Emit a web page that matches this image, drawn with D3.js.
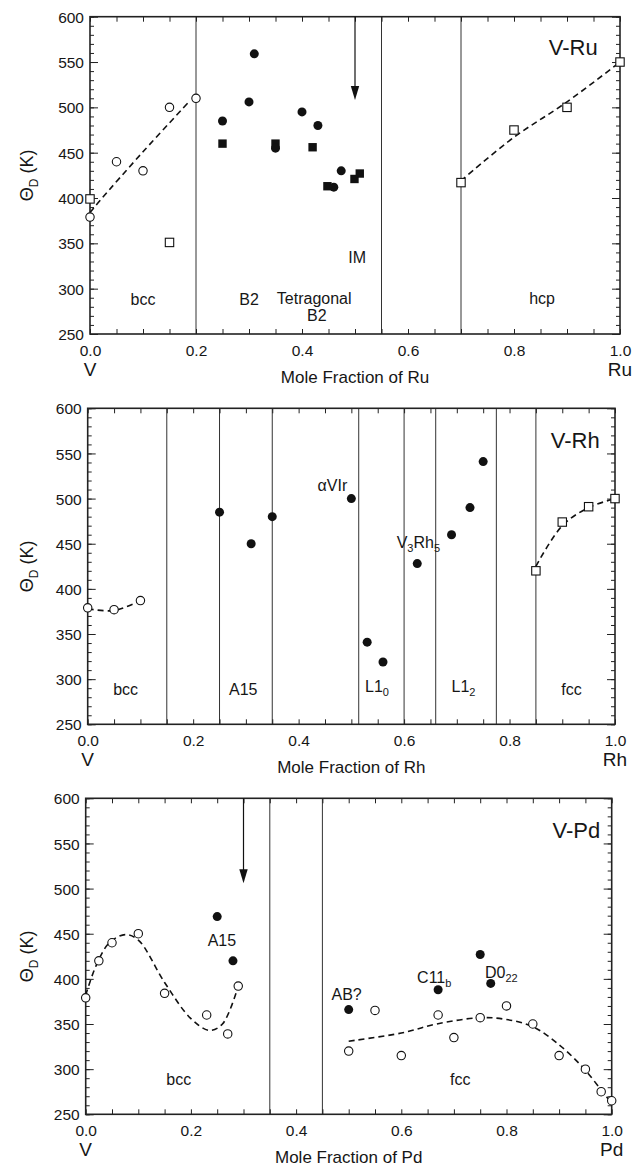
<!DOCTYPE html>
<html>
<head>
<meta charset="utf-8">
<style>
  body {
    margin: 0;
    background-color: #fff;
  }

  svg text {
    font-family: "Liberation Sans", Arial, Helvetica, sans-serif;
    fill: #161616;
  }
</style>
  <script src="https://d3js.org/d3.v7.min.js"></script>
</head>
<body>
<script>
// Debye temperature vs composition, three V-based systems

// ---- V-Ru ----
const ruOpenCircles = [[0, 379], [0.05, 440], [0.1, 430], [0.15, 500], [0.2, 510]];
const ruOpenSquares = [[0, 399], [0.15, 351], [0.7, 417], [0.8, 475], [0.9, 500], [1.0, 550]];
const ruFilledCircles = [[0.25, 485], [0.3, 506], [0.31, 559], [0.35, 455], [0.4, 495],
  [0.43, 480], [0.46, 412], [0.474, 430]];
const ruFilledSquares = [[0.25, 460], [0.35, 460], [0.42, 456], [0.448, 413], [0.499, 421], [0.509, 427]];
const ruFitLeft = [[0, 384], [0.02, 398], [0.1, 451], [0.185, 505]];
const ruFitRight = [[0.7, 419], [0.8, 467], [0.9, 506], [1.0, 550]];
const ruBounds = [0.2, 0.55, 0.7];
const ruArrowX = 0.5;
const ruArrowTip = 508;

// ---- V-Rh ----
const rhOpenCircles = [[0, 379], [0.05, 377], [0.1, 387]];
const rhOpenSquares = [[0.85, 420], [0.9, 474], [0.95, 491], [1.0, 500]];
const rhFilledCircles = [[0.25, 485], [0.31, 450], [0.35, 480], [0.5, 500], [0.53, 341],
  [0.56, 319], [0.625, 428], [0.69, 460], [0.725, 490], [0.75, 541]];
const rhFitLeft = [[0, 378], [0.05, 376], [0.1, 387]];
const rhFitRight = [[0.85, 425], [0.9, 470], [0.95, 490], [1.0, 500]];
const rhBounds = [0.15, 0.25, 0.35, 0.514, 0.6, 0.66, 0.775, 0.85];

// ---- V-Pd ----
const pdOpenCircles = [[0, 379], [0.025, 420], [0.05, 440], [0.1, 450], [0.15, 384],
  [0.23, 360], [0.27, 339], [0.29, 392], [0.5, 320], [0.55, 365], [0.6, 315],
  [0.67, 360], [0.7, 335], [0.75, 357], [0.8, 370], [0.85, 350], [0.9, 315],
  [0.95, 300], [0.98, 275], [1.0, 265]];
const pdFilledCircles = [[0.25, 469], [0.28, 420], [0.5, 366], [0.67, 388], [0.75, 427], [0.77, 395]];
const pdFitLeft = [[0, 382], [0.02, 415], [0.045, 440], [0.075, 449], [0.1, 443],
  [0.15, 396], [0.2, 356], [0.235, 343], [0.26, 350], [0.29, 392]];
const pdFitRight = [[0.5, 331], [0.6, 340], [0.667, 350], [0.75, 357], [0.8, 355],
  [0.85, 347], [0.9, 327], [0.945, 302], [0.98, 277], [1.0, 262]];
const pdBounds = [0.35, 0.45];
const pdArrowX = 0.3;
const pdArrowTip = 506;

const xMajorTicks = [0, 0.2, 0.4, 0.6, 0.8, 1.0];
const yMajorTicks = [250, 300, 350, 400, 450, 500, 550, 600];

const svg = d3.select('body')
  .append('svg')
  .attr('width', 633)
  .attr('height', 1169);

const drawPanel = (p) => {
  const x = d3.scaleLinear().domain([0, 1]).range([p.left, p.right]);
  const y = d3.scaleLinear().domain([250, 600]).range([p.bottom, p.top]);
  const g = svg.append('g');

  // phase boundaries
  g.selectAll('.bound')
    .data(p.bounds)
    .join('line')
    .attr('x1', d => x(d)).attr('x2', d => x(d))
    .attr('y1', p.top).attr('y2', p.bottom)
    .attr('stroke', '#333')
    .attr('stroke-width', 1);

  // axes, ticks pointing inward
  const minorX = d3.range(0, 1.0001, 0.05);
  const minorY = d3.range(250, 600.001, 10);
  const fmtX = d => (xMajorTicks.some(m => Math.abs(m - d) < 1e-6) ? d3.format('.1f')(d) : '');

  g.append('g')
    .attr('transform', `translate(0,${p.bottom})`)
    .call(d3.axisBottom(x).tickValues(minorX).tickSize(-5).tickPadding(11).tickFormat(fmtX));
  g.append('g')
    .attr('transform', `translate(0,${p.top})`)
    .call(d3.axisTop(x).tickValues(minorX).tickSize(-5).tickFormat(''));
  g.append('g')
    .attr('transform', `translate(${p.left},0)`)
    .call(d3.axisLeft(y).tickValues(minorY).tickSize(-4).tickFormat(''));
  const left = g.append('g')
    .attr('transform', `translate(${p.left},0)`)
    .call(d3.axisLeft(y).tickValues(yMajorTicks).tickSize(-8).tickPadding(6).tickFormat(d3.format('d')));
  g.append('g')
    .attr('transform', `translate(${p.right},0)`)
    .call(d3.axisRight(y).tickValues(minorY).tickSize(-4).tickFormat(''));
  g.append('g')
    .attr('transform', `translate(${p.right},0)`)
    .call(d3.axisRight(y).tickValues(yMajorTicks).tickSize(-8).tickFormat(''));

  g.selectAll('.domain').remove();
  g.selectAll('.tick line').attr('stroke', '#222').attr('stroke-width', 1);
  g.selectAll('.tick text').attr('font-size', 15.5).attr('fill', '#161616');
  left.selectAll('.tick text').attr('dy', '0.36em');

  g.append('rect')
    .attr('x', p.left).attr('y', p.top)
    .attr('width', p.right - p.left).attr('height', p.bottom - p.top)
    .attr('fill', 'none')
    .attr('stroke', '#222')
    .attr('stroke-width', 1.6);

  // axis titles
  g.append('text')
    .attr('x', (p.left + p.right) / 2)
    .attr('y', p.bottom + 49)
    .attr('text-anchor', 'middle')
    .attr('font-size', 17)
    .text('Mole Fraction of ' + p.element);
  g.append('text')
    .attr('x', x(0)).attr('y', p.bottom + 42)
    .attr('text-anchor', 'middle')
    .attr('font-size', 19)
    .text('V');
  g.append('text')
    .attr('x', x(1)).attr('y', p.bottom + 42)
    .attr('text-anchor', 'middle')
    .attr('font-size', 19)
    .text(p.element);

  const yl = g.append('text')
    .attr('transform', `translate(33,${(p.top + p.bottom) / 2}) rotate(-90)`)
    .attr('text-anchor', 'middle')
    .attr('font-size', 18);
  yl.append('tspan').text('Θ');
  yl.append('tspan').attr('font-size', 12).attr('dy', 5).text('D');
  yl.append('tspan').attr('dy', -5).text(' (K)');

  // dashed fits
  const line = d3.line()
    .x(d => x(d[0]))
    .y(d => y(d[1]))
    .curve(d3.curveCatmullRom);
  p.fits.forEach(f => {
    g.append('path')
      .attr('d', line(f))
      .attr('fill', 'none')
      .attr('stroke', '#111')
      .attr('stroke-width', 1.6)
      .attr('stroke-dasharray', '6,4');
  });

  // arrow
  if (p.arrowX !== undefined) {
    const ax = x(p.arrowX);
    const tip = y(p.arrowTip);
    g.append('line')
      .attr('x1', ax).attr('x2', ax)
      .attr('y1', p.top).attr('y2', tip - 10)
      .attr('stroke', '#111').attr('stroke-width', 1.2);
    g.append('path')
      .attr('d', `M${ax - 4.2},${tip - 14} L${ax + 4.2},${tip - 14} L${ax},${tip} Z`)
      .attr('fill', '#111');
  }

  // markers
  const r = 4.2;
  const sq = 8.4;
  g.selectAll('.osq')
    .data(p.openSquares || [])
    .join('rect')
    .attr('x', d => x(d[0]) - sq / 2).attr('y', d => y(d[1]) - sq / 2)
    .attr('width', sq).attr('height', sq)
    .attr('fill', '#fff').attr('stroke', '#111').attr('stroke-width', 1.1);
  g.selectAll('.ocir')
    .data(p.openCircles || [])
    .join('circle')
    .attr('cx', d => x(d[0])).attr('cy', d => y(d[1])).attr('r', r)
    .attr('fill', '#fff').attr('stroke', '#111').attr('stroke-width', 1.1);
  g.selectAll('.fsq')
    .data(p.filledSquares || [])
    .join('rect')
    .attr('x', d => x(d[0]) - sq / 2).attr('y', d => y(d[1]) - sq / 2)
    .attr('width', sq).attr('height', sq)
    .attr('fill', '#111');
  g.selectAll('.fcir')
    .data(p.filledCircles || [])
    .join('circle')
    .attr('cx', d => x(d[0])).attr('cy', d => y(d[1])).attr('r', r + 0.3)
    .attr('fill', '#111');

  // region and phase labels; {s: '..'} parts are subscripts
  p.labels.forEach(l => {
    const t = g.append('text')
      .attr('x', x(l.x)).attr('y', y(l.y))
      .attr('text-anchor', l.anchor || 'middle')
      .attr('font-size', l.size || 16);
    let shifted = false;
    l.parts.forEach(part => {
      if (typeof part === 'string') {
        t.append('tspan').attr('dy', shifted ? -4 : 0).text(part);
        shifted = false;
      } else {
        t.append('tspan').attr('font-size', 11).attr('dy', 4).text(part.s);
        shifted = true;
      }
    });
  });
};

drawPanel({
  element: 'Ru',
  left: 90, right: 620, top: 16.7, bottom: 334,
  bounds: ruBounds,
  openCircles: ruOpenCircles,
  openSquares: ruOpenSquares,
  filledCircles: ruFilledCircles,
  filledSquares: ruFilledSquares,
  fits: [ruFitLeft, ruFitRight],
  arrowX: ruArrowX, arrowTip: ruArrowTip,
  labels: [
    {x: 0.1, y: 282, parts: ['bcc']},
    {x: 0.3, y: 282, parts: ['B2']},
    {x: 0.423, y: 283, parts: ['Tetragonal']},
    {x: 0.428, y: 264, parts: ['B2']},
    {x: 0.504, y: 328, parts: ['IM']},
    {x: 0.853, y: 283, parts: ['hcp']},
    {x: 0.958, y: 558, anchor: 'end', size: 22, parts: ['V-Ru']}
  ]
});

drawPanel({
  element: 'Rh',
  left: 87.7, right: 615, top: 408.3, bottom: 724.3,
  bounds: rhBounds,
  openCircles: rhOpenCircles,
  openSquares: rhOpenSquares,
  filledCircles: rhFilledCircles,
  fits: [rhFitLeft, rhFitRight],
  labels: [
    {x: 0.072, y: 283, parts: ['bcc']},
    {x: 0.295, y: 283, parts: ['A15']},
    {x: 0.464, y: 508, parts: ['αVIr']},
    {x: 0.526, y: 286, anchor: 'start', parts: ['L1', {s: '0'}]},
    {x: 0.586, y: 445, anchor: 'start', parts: ['V', {s: '3'}, 'Rh', {s: '5'}]},
    {x: 0.69, y: 286, anchor: 'start', parts: ['L1', {s: '2'}]},
    {x: 0.9175, y: 283, parts: ['fcc']},
    {x: 0.971, y: 556, anchor: 'end', size: 22, parts: ['V-Rh']}
  ]
});

drawPanel({
  element: 'Pd',
  left: 85.7, right: 611.7, top: 798.3, bottom: 1114.3,
  bounds: pdBounds,
  openCircles: pdOpenCircles,
  filledCircles: pdFilledCircles,
  fits: [pdFitLeft, pdFitRight],
  arrowX: pdArrowX, arrowTip: pdArrowTip,
  labels: [
    {x: 0.259, y: 436, parts: ['A15']},
    {x: 0.177, y: 283, parts: ['bcc']},
    {x: 0.496, y: 377, parts: ['AB?']},
    {x: 0.63, y: 395, anchor: 'start', parts: ['C11', {s: 'b'}]},
    {x: 0.759, y: 401, anchor: 'start', parts: ['D0', {s: '22'}]},
    {x: 0.712, y: 283, parts: ['fcc']},
    {x: 0.978, y: 556, anchor: 'end', size: 22, parts: ['V-Pd']}
  ]
});
</script>
</body>
</html>
